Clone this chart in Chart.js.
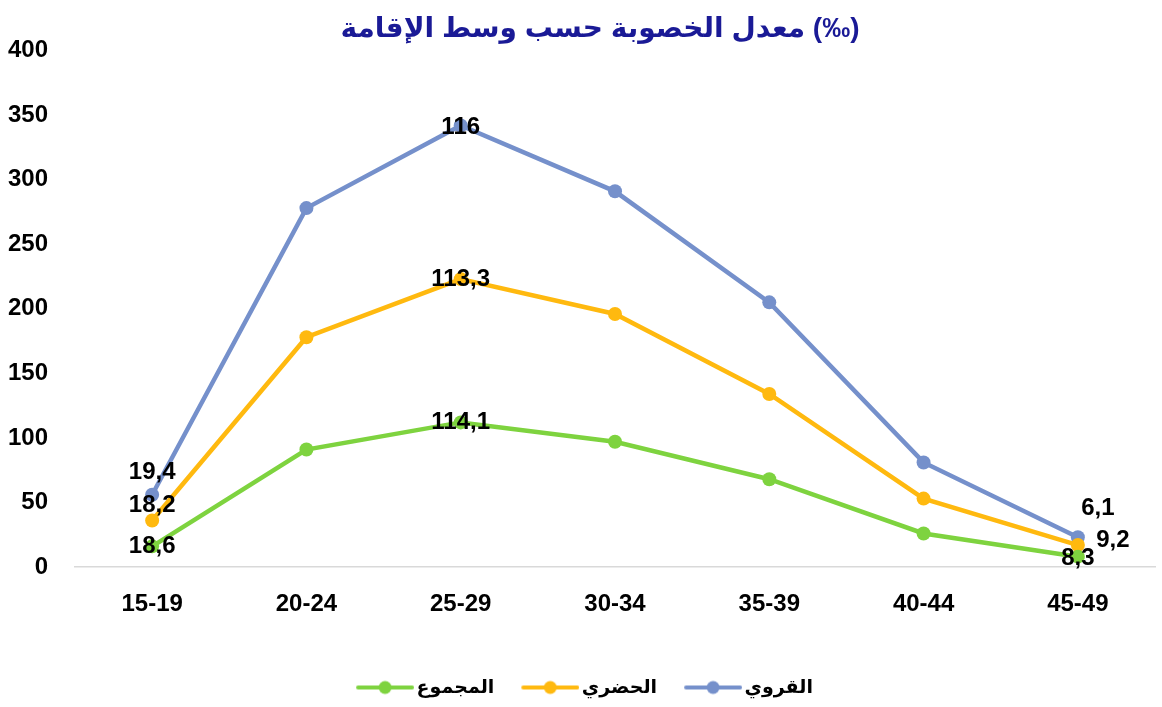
<!DOCTYPE html>
<html>
<head>
<meta charset="utf-8">
<script src="https://cdn.jsdelivr.net/npm/chart.js@4/dist/chart.umd.min.js"></script>
<style>
	html, body { margin: 0; padding: 0; background: #ffffff; }
	#wrap { width: 1162px; height: 707px; }
</style>
</head>
<body>
<div id="wrap"><canvas id="fertilityChart"></canvas></div>
<script>
// categories and values
const ageGroups = ['15-19', '20-24', '25-29', '30-34', '35-39', '40-44', '45-49'];
const seriesNames = ['المجموع', 'الحضري', 'القروي'];
const totalValues = [16, 91, 112, 97, 68, 26, 8];
const urbanValues = [36, 178, 223, 196, 134, 53, 17];
const ruralValues = [56, 278, 342, 291, 205, 81, 23];
const totalLabels = ['18,6', null, '114,1', null, null, null, '8,3'];
const urbanLabels = ['18,2', null, '113,3', null, null, null, '9,2'];
const ruralLabels = ['19,4', null, '116', null, null, null, '6,1'];
const yTicks = [0, 50, 100, 150, 200, 250, 300, 350, 400];
const chartTitle = 'معدل الخصوبة حسب وسط الإقامة (‰)';

document.addEventListener('DOMContentLoaded', () => {
	const colors = ['#7ed33f', '#ffb90f', '#7590cb'];
	const labelSets = [totalLabels, urbanLabels, ruralLabels];
	// where each label sits relative to its point: [dx, dy]
	const labelShift = [
		[[0, 0], null, [0, 0], null, null, null, [0, 2]],
		[[0, -15], null, [0, 0], null, null, null, [35, -5]],
		[[0, -22], null, [0, 2], null, null, null, [20, -29]]
	];
	const fontFamily = '"Liberation Sans", "DejaVu Sans", Arial, sans-serif';

	// line + dot legend symbol, shifted right so it sits close to its text
	function legendIcon(color) {
		const c = document.createElement('canvas');
		c.width = 72;
		c.height = 16;
		const g = c.getContext('2d');
		g.strokeStyle = color;
		g.lineWidth = 4;
		g.lineCap = 'round';
		g.beginPath();
		g.moveTo(16, 8);
		g.lineTo(70, 8);
		g.stroke();
		g.fillStyle = color;
		g.beginPath();
		g.arc(43, 8, 6.5, 0, Math.PI * 2);
		g.fill();
		return c;
	}

	const pointLabels = {
		id: 'pointLabels',
		afterDatasetsDraw(chart) {
			const ctx = chart.ctx;
			ctx.save();
			ctx.font = 'bold 24px ' + fontFamily;
			ctx.fillStyle = '#000000';
			ctx.textAlign = 'center';
			ctx.textBaseline = 'middle';
			chart.data.datasets.forEach((ds, d) => {
				const meta = chart.getDatasetMeta(d);
				meta.data.forEach((pt, i) => {
					const text = labelSets[d][i];
					if (!text) return;
					const s = labelShift[d][i] || [0, 0];
					ctx.fillText(text, pt.x + s[0], pt.y + s[1]);
				});
			});
			ctx.restore();
		}
	};

	// title drawn by hand, a bit right of the canvas centre like the original
	const titleText = {
		id: 'titleText',
		afterDraw(chart) {
			const ctx = chart.ctx;
			ctx.save();
			ctx.font = 'bold 28px ' + fontFamily;
			ctx.fillStyle = '#1a1a96';
			ctx.textAlign = 'center';
			ctx.textBaseline = 'middle';
			ctx.fillText(chartTitle, 600, 29);
			ctx.restore();
		}
	};

	const datasets = [totalValues, urbanValues, ruralValues].map((vals, d) => ({
		label: seriesNames[d],
		data: vals,
		borderColor: colors[d],
		backgroundColor: colors[d],
		borderWidth: 4.5,
		pointRadius: 7,
		pointHoverRadius: 7,
		pointBorderWidth: 0,
		tension: 0
	}));

	const config = {
		type: 'line',
		data: { labels: ageGroups, datasets: datasets },
		options: {
			responsive: true,
			maintainAspectRatio: false,
			animation: false,
			layout: { padding: { top: 0, left: 0, right: 0, bottom: 0 } },
			plugins: {
				title: {
					display: true,
					text: chartTitle,
					color: 'rgba(0,0,0,0)',
					font: { family: fontFamily, size: 28, weight: 'bold' },
					padding: { top: 12, bottom: 5 }
				},
				legend: {
					position: 'bottom',
					labels: {
						color: '#000000',
						font: { family: fontFamily, size: 19, weight: 'bold' },
						usePointStyle: true,
						pointStyleWidth: 58,
						padding: 20,
						generateLabels(chart) {
							return chart.data.datasets.map((ds, i) => ({
								text: ds.label,
								pointStyle: legendIcon(colors[i]),
								fillStyle: colors[i],
								strokeStyle: colors[i],
								lineWidth: 0,
								hidden: false,
								datasetIndex: i,
								fontColor: '#000000'
							}));
						}
					}
				},
				tooltip: { enabled: false }
			},
			scales: {
				x: {
					offset: true,
					grid: { display: false },
					border: { display: true, color: '#d9d9d9', width: 1.5 },
					afterFit(scale) {
						scale.height = 91;
						scale.paddingLeft = 0;
						scale.paddingRight = 0;
					},
					ticks: {
						color: '#000000',
						font: { family: fontFamily, size: 24, weight: 'bold' },
						padding: 15
					}
				},
				y: {
					min: 0,
					max: 400,
					grid: { display: false },
					border: { display: false },
					afterBuildTicks(scale) {
						scale.ticks = yTicks.map(v => ({ value: v }));
					},
					afterFit(scale) {
						scale.width = 75;
					},
					ticks: {
						color: '#000000',
						font: { family: fontFamily, size: 24, weight: 'bold' },
						padding: 19
					}
				}
			}
		},
		plugins: [pointLabels, titleText]
	};

	new Chart(document.getElementById('fertilityChart'), config);
});
</script>
</body>
</html>
